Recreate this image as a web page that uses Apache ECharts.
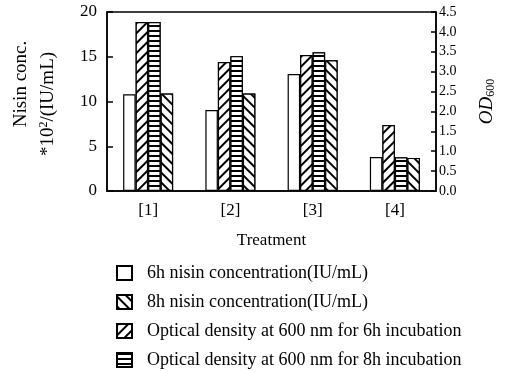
<!DOCTYPE html>
<html>
<head>
<meta charset="utf-8">
<script src="https://cdn.jsdelivr.net/npm/echarts@6/dist/echarts.min.js"></script>
<style>
  html, body { margin: 0; padding: 0; background: #fff; }
  #chart { width: 510px; height: 372px; }
</style>
</head>
<body>
<div id="chart"></div>
<script>
const categories = ['[1]', '[2]', '[3]', '[4]'];
const nisin6h = [10.8, 9.05, 13.07, 3.8];
const nisin8h = [10.9, 10.9, 14.6, 3.7];
const od6h = [4.25, 3.24, 3.42, 1.66];
const od8h = [4.25, 3.39, 3.49, 0.85];

const FONT = 'Liberation Serif';

const myChart = echarts.init(document.getElementById('chart'));

// line hatching drawn with decal, black lines on white
function hatch(rotation, gap) {
  return {
    symbol: 'rect',
    symbolSize: 1,
    color: '#000',
    backgroundColor: '#fff',
    dashArrayX: [1, 0],
    dashArrayY: [1.3, gap],
    rotation: rotation
  };
}

const barBase = {
  type: 'bar',
  barWidth: 12.5,
  barGap: '0%'
};

const option = {
  animation: false,
  textStyle: {fontFamily: FONT, color: '#000'},
  grid: {
    left: 107, right: 74, top: 12, bottom: 181,
    outerBoundsMode: 'none',
    containLabel: false,
    show: true, borderColor: '#000', borderWidth: 1.5, backgroundColor: 'transparent'
  },
  legend: {
    orient: 'vertical',
    left: 116,
    top: 264,
    padding: 0,
    itemWidth: 15,
    itemHeight: 14,
    itemGap: 11,
    icon: 'rect',
    textStyle: {fontFamily: FONT, fontSize: 18, color: '#000', padding: [0, 0, 0, 10]},
    data: [
      '6h nisin concentration(IU/mL)',
      '8h nisin concentration(IU/mL)',
      'Optical density at 600 nm for 6h incubation',
      'Optical density at 600 nm for 8h incubation'
    ]
  },
  xAxis: {
    type: 'category',
    data: categories,
    name: 'Treatment',
    nameLocation: 'middle',
    nameGap: 41,
    nameTextStyle: {fontFamily: FONT, fontSize: 17, color: '#000'},
    axisLine: {lineStyle: {color: '#000', width: 1.5}},
    axisTick: {inside: true, length: 5, lineStyle: {color: '#000', width: 1.5}},
    axisLabel: {fontFamily: FONT, fontSize: 17, color: '#000', margin: 11}
  },
  yAxis: [
    {
      type: 'value',
      min: 0, max: 20, interval: 5,
      position: 'left',
      splitLine: {show: false},
      axisLine: {show: true, lineStyle: {color: '#000', width: 1.5}},
      axisTick: {show: true, inside: true, length: 6, lineStyle: {color: '#000', width: 1.5}},
      axisLabel: {fontFamily: FONT, fontSize: 17, color: '#000', margin: 10}
    },
    {
      type: 'value',
      min: 0, max: 4.5, interval: 0.5,
      position: 'right',
      splitLine: {show: false},
      name: '{it|OD}{sub|600}',
      nameLocation: 'middle',
      nameRotate: 90,
      nameGap: 40,
      nameTextStyle: {
        rich: {
          it: {fontFamily: FONT, fontStyle: 'italic', fontSize: 19, color: '#000'},
          sub: {fontFamily: FONT, fontSize: 12, color: '#000', verticalAlign: 'bottom', padding: [9, 0, 0, 0]}
        }
      },
      axisLine: {show: true, lineStyle: {color: '#000', width: 1.5}},
      axisTick: {show: true, inside: true, length: 5, lineStyle: {color: '#000', width: 1.5}},
      axisLabel: {fontFamily: FONT, fontSize: 14, color: '#000', margin: 3,
        formatter: v => v.toFixed(1)}
    }
  ],
  graphic: [
    {
      type: 'text',
      x: 21, y: 84,
      rotation: Math.PI / 2,
      style: {text: 'Nisin conc.', font: '19px "Liberation Serif"', fill: '#000',
        align: 'center', verticalAlign: 'middle'}
    },
    {
      type: 'text',
      x: 48, y: 104,
      rotation: Math.PI / 2,
      style: {
        text: '{n|*10}{s|2}{n|/(IU/mL)}',
        align: 'center', verticalAlign: 'middle',
        rich: {
          n: {font: '19px "Liberation Serif"', fill: '#000'},
          s: {font: '12px "Liberation Serif"', fill: '#000', verticalAlign: 'top', padding: [0, 0, 9, 0]}
        }
      }
    }
  ],
  series: [
    Object.assign({}, barBase, {
      name: '6h nisin concentration(IU/mL)',
      yAxisIndex: 0,
      data: nisin6h,
      itemStyle: {color: '#fff', borderColor: '#000', borderWidth: 1.2}
    }),
    Object.assign({}, barBase, {
      name: 'Optical density at 600 nm for 6h incubation',
      yAxisIndex: 1,
      data: od6h,
      itemStyle: {color: '#fff', borderColor: '#000', borderWidth: 1.2, decal: hatch(-Math.PI / 4, 4.5)}
    }),
    Object.assign({}, barBase, {
      name: 'Optical density at 600 nm for 8h incubation',
      yAxisIndex: 1,
      data: od8h,
      itemStyle: {color: '#fff', borderColor: '#000', borderWidth: 1.2, decal: hatch(0, 2.5)}
    }),
    Object.assign({}, barBase, {
      name: '8h nisin concentration(IU/mL)',
      yAxisIndex: 0,
      data: nisin8h,
      itemStyle: {color: '#fff', borderColor: '#000', borderWidth: 1.2, decal: hatch(Math.PI / 4, 4.5)}
    })
  ]
};

window.addEventListener('resize', () => {
  myChart.resize();
});
myChart.setOption(option);
</script>
</body>
</html>
